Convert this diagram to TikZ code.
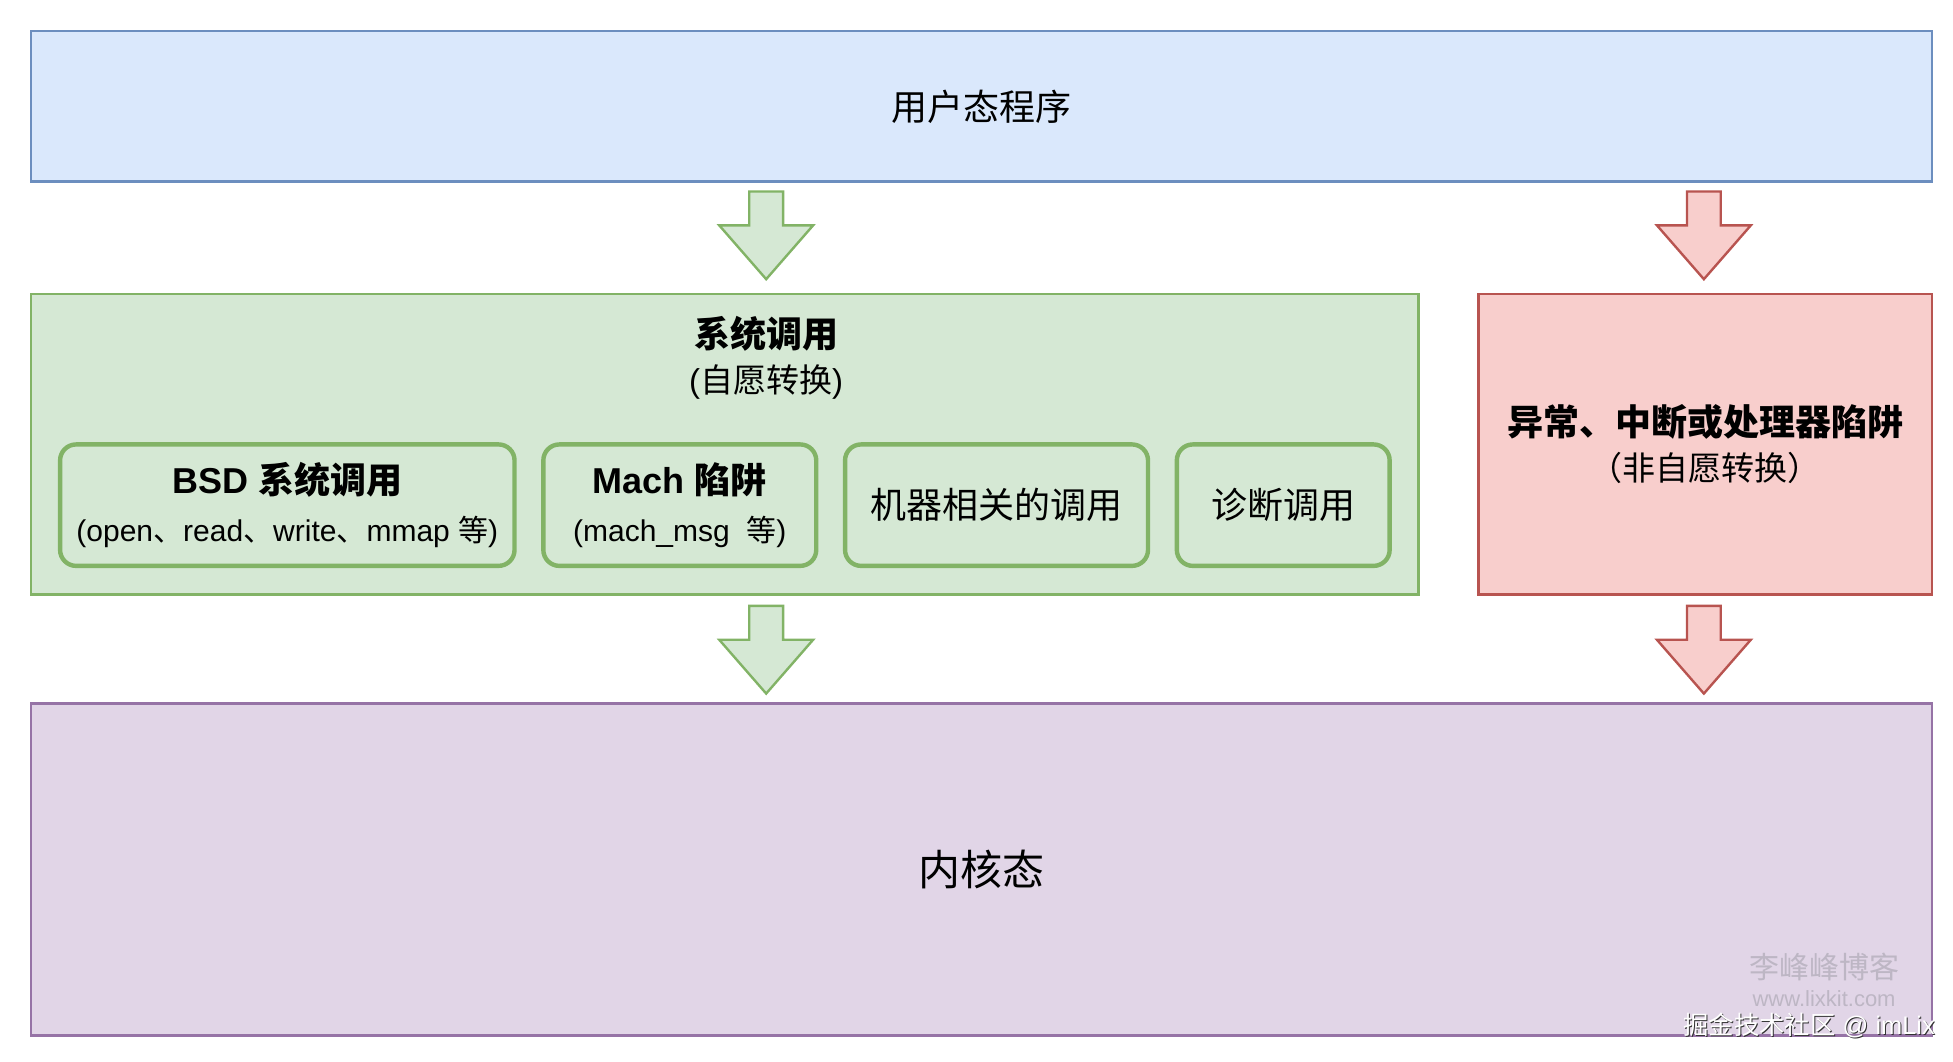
\documentclass[tikz,border=0pt]{standalone}
\usepackage{fontspec}
\setmainfont{Liberation Sans}
\newfontfamily\cjk{Noto Sans CJK SC}
\newcommand{\zh}[1]{{\cjk #1}}
\usetikzlibrary{positioning,calc}

\definecolor{userfill}{HTML}{DAE8FC}
\definecolor{userline}{HTML}{6C8EBF}
\definecolor{sysfill}{HTML}{D5E8D4}
\definecolor{sysline}{HTML}{82B366}
\definecolor{excfill}{HTML}{F8CECC}
\definecolor{excline}{HTML}{B85450}
\definecolor{kernfill}{HTML}{E1D5E7}
\definecolor{kernline}{HTML}{9673A6}
\definecolor{markgray}{HTML}{BDB6C4}

\tikzset{
    boxsize/.style 2 args={minimum width=#1*0.626pt, minimum height=#2*0.626pt},
    layer/.style={draw, line width=1.2pt, inner sep=0pt},
    callbox/.style={draw=sysline, fill=sysfill, line width=2.2pt, rounded corners=8pt,
        align=center, inner sep=0pt, font=\fontsize{18}{24}\selectfont},
    bigarrow/.style={line width=1.2pt, line join=miter}
}

% block arrow pointing down, top centre at #2
\newcommand{\blockarrow}[2]{%
    \draw[bigarrow, #1] ($(#2)+(-13.5,0)$) -- ($(#2)+(13.5,0)$) -- ($(#2)+(13.5,-27)$)
        -- ($(#2)+(37.5,-27)$) -- ($(#2)+(0,-70)$) -- ($(#2)+(-37.5,-27)$)
        -- ($(#2)+(-13.5,-27)$) -- cycle;}

\begin{document}
\begin{tikzpicture}[x=0.626pt, y=0.626pt]
    \useasboundingbox (0,0) rectangle (1560,-848);

    \node[layer, draw=userline, fill=userfill, boxsize={1518}{120},
        font=\fontsize{18}{22}\selectfont] (user) at (784,-85) {\zh{用户态程序}};

    \node[layer, draw=sysline, fill=sysfill, boxsize={1108}{240}] (sys) at (579,-355) {};
    \node[align=center, font=\fontsize{18}{22.5}\selectfont] (systitle) at (612,-286)
        {\textbf{\zh{系统调用}}\\{\fontsize{16.5}{20}\selectfont (\zh{自愿转换})}};

    \node[layer, draw=excline, fill=excfill, boxsize={362}{240}, align=center,
        font=\fontsize{18}{22.5}\selectfont] (exc) at (1362,-355)
        {\textbf{\zh{异常、中断或处理器陷阱}}\\{\fontsize{16.5}{20}\selectfont\zh{（非自愿转换）}}};

    \node[layer, draw=kernline, fill=kernfill, boxsize={1518}{265},
        font=\fontsize{21}{25}\selectfont] (kernel) at (784,-694.5) {\zh{内核态}};

    % the four kinds of system call
    \node[callbox, boxsize={363}{97}] (bsd) at (229.5,-403.5)
        {\textbf{BSD \zh{系统调用}}\\{\fontsize{15}{18}\selectfont (open\zh{、}read\zh{、}write\zh{、}mmap \zh{等})}};
    \node[callbox, boxsize={218}{97}] (mach) at (543,-403.5)
        {\textbf{Mach \zh{陷阱}}\\{\fontsize{15}{18}\selectfont (mach\_msg\ \ \zh{等})}};
    \node[callbox, boxsize={242}{97}] (machdep) at (796,-403.5) {\zh{机器相关的调用}};
    \node[callbox, boxsize={170}{97}] (diag) at (1025,-403.5) {\zh{诊断调用}};

    % arrows between the layers
    \coordinate (sysin) at (612,-153);
    \coordinate (excin) at (1361,-153);
    \coordinate (sysout) at (612,-484);
    \coordinate (excout) at (1361,-484);
    \blockarrow{draw=sysline, fill=sysfill}{sysin}
    \blockarrow{draw=excline, fill=excfill}{excin}
    \blockarrow{draw=sysline, fill=sysfill}{sysout}
    \blockarrow{draw=excline, fill=excfill}{excout}

    % watermarks
    \node[text=markgray, font=\fontsize{15}{18}\selectfont] (blog) at (1457,-772) {\zh{李峰峰博客}};
    \node[text=markgray, font=\fontsize{11}{13}\selectfont, below=-2pt of blog] (site) {www.lixkit.com};
    \node[text=black!80, font=\fontsize{12.7}{15}\selectfont] (juejinshadow) at (1445.8,-819.8) {\zh{掘金技术社区} @ imLix};
    \node[text=white, font=\fontsize{12.7}{15}\selectfont] (juejin) at (1445,-819) {\zh{掘金技术社区} @ imLix};
\end{tikzpicture}
\end{document}
